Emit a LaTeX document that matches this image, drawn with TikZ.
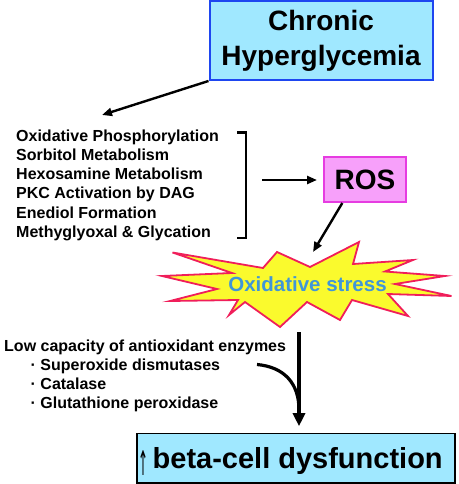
\documentclass[tikz,border=0pt]{standalone}
\usepackage{fontspec}
\setmainfont{Liberation Sans}
\newfontfamily\arrowfont{DejaVu Sans}
\usetikzlibrary{arrows.meta,calc}
\definecolor{cyanfill}{RGB}{160,232,255}
\definecolor{topborder}{RGB}{30,70,240}
\definecolor{rosfill}{RGB}{247,160,250}
\definecolor{rosborder}{RGB}{230,60,225}
\definecolor{starfill}{RGB}{250,250,45}
\definecolor{starborder}{RGB}{240,30,90}
\definecolor{oxtext}{RGB}{65,150,215}
\begin{document}
\begin{tikzpicture}[x=1pt,y=-1pt,
  listtxt/.style={anchor=base west, inner sep=0pt, font=\bfseries\fontsize{16}{19}\selectfont},
  arr/.style={line width=2.4pt, -{Triangle[length=10pt,width=8pt]}},
  thickarr/.style={line width=3.2pt, -{Triangle[length=13pt,width=12pt]}},
  topbox/.style={draw=topborder, line width=2pt, fill=cyanfill, inner sep=0pt, align=center},
  rosbox/.style={draw=rosborder, line width=2pt, fill=rosfill, inner sep=0pt},
  betabox/.style={draw=black, line width=1.6pt, fill=cyanfill, inner sep=0pt},
  ]
\useasboundingbox (0,0) rectangle (458,484);

% top box
\node[topbox, minimum width=223pt, minimum height=78.5pt,
      font=\bfseries\fontsize{28}{35}\selectfont] (chg) at (321,40.75) {Chronic\\Hyperglycemia};

% list
\node[listtxt] (l1) at (16,141) {Oxidative Phosphorylation};
\node[listtxt] (l2) at (16,160.3) {Sorbitol Metabolism};
\node[listtxt] (l3) at (16,179.6) {Hexosamine Metabolism};
\node[listtxt] (l4) at (16,198.9) {PKC Activation by DAG};
\node[listtxt] (l5) at (16,218.2) {Enediol Formation};
\node[listtxt] (l6) at (16,237.5) {Methyglyoxal \& Glycation};

\coordinate (ltop) at (102,115);
\draw[arr] (chg.south west) -- (ltop);

% bracket
\draw[line width=2.4pt] (237,132.5) -- (246,132.5) -- (246,238) -- (237,238);

% ROS
\node[rosbox, minimum width=82pt, minimum height=45pt,
      font=\bfseries\fontsize{28}{34}\selectfont] (ros) at (365,179.5) {ROS};
\coordinate (brk) at (262,180);
\draw[arr, shorten >=6pt] (brk) -- (brk -| ros.west);

% star
\draw[fill=starfill, draw=starborder, line width=1.8pt, line join=miter]
  (172.5,252.5) -- (263,268) -- (277,252) -- (310,267) -- (359,242) -- (353,264)
  -- (413,260) -- (385,271.5) -- (445,276) -- (395,284) -- (451.5,296) -- (388,294)
  -- (408,316) -- (352,300) -- (340,320) -- (307,302) -- (280,327) -- (245,302)
  -- (229,315) -- (238,300) -- (170,301) -- (217,289) -- (162,276) -- (232,273) -- cycle;
\node[inner sep=0pt, anchor=base, text=oxtext,
      font=\bfseries\fontsize{20.5}{24}\selectfont] (ox) at (307.5,291) {Oxidative stress};

\coordinate (stp) at (313,252);
\draw[arr] ($(ros.south west)!0.23!(ros.south east)$) -- (stp);

% enzymes
\node[listtxt] (e0) at (4,351.3) {Low capacity of antioxidant enzymes};
\node[listtxt] (e1) at (30.5,370.3) {· Superoxide dismutases};
\node[listtxt] (e2) at (30.5,389.6) {· Catalase};
\node[listtxt] (e3) at (30.5,408.9) {· Glutathione peroxidase};

% beta box
\node[betabox, minimum width=318pt, minimum height=49.5pt] (beta) at (296,458.25) {};
\node[anchor=base west, inner sep=0pt, font=\bfseries\fontsize{29}{34}\selectfont] (betatxt) at (138,468)
  {\raisebox{-7pt}{\scalebox{0.35}[1]{\arrowfont\mdseries\fontsize{34}{34}\selectfont ↑}}\hspace{4.5pt}beta-cell dysfunction};

% vertical arrow and curve
\coordinate (vtop) at (299,332);
\draw[thickarr, shorten >=6.5pt] (vtop) -- (vtop |- beta.north);
\coordinate (cst) at (257,364.5);
\draw[line width=3.2pt] (cst) .. controls (284,367) and (299,383) .. (299,410);
\end{tikzpicture}
\end{document}
